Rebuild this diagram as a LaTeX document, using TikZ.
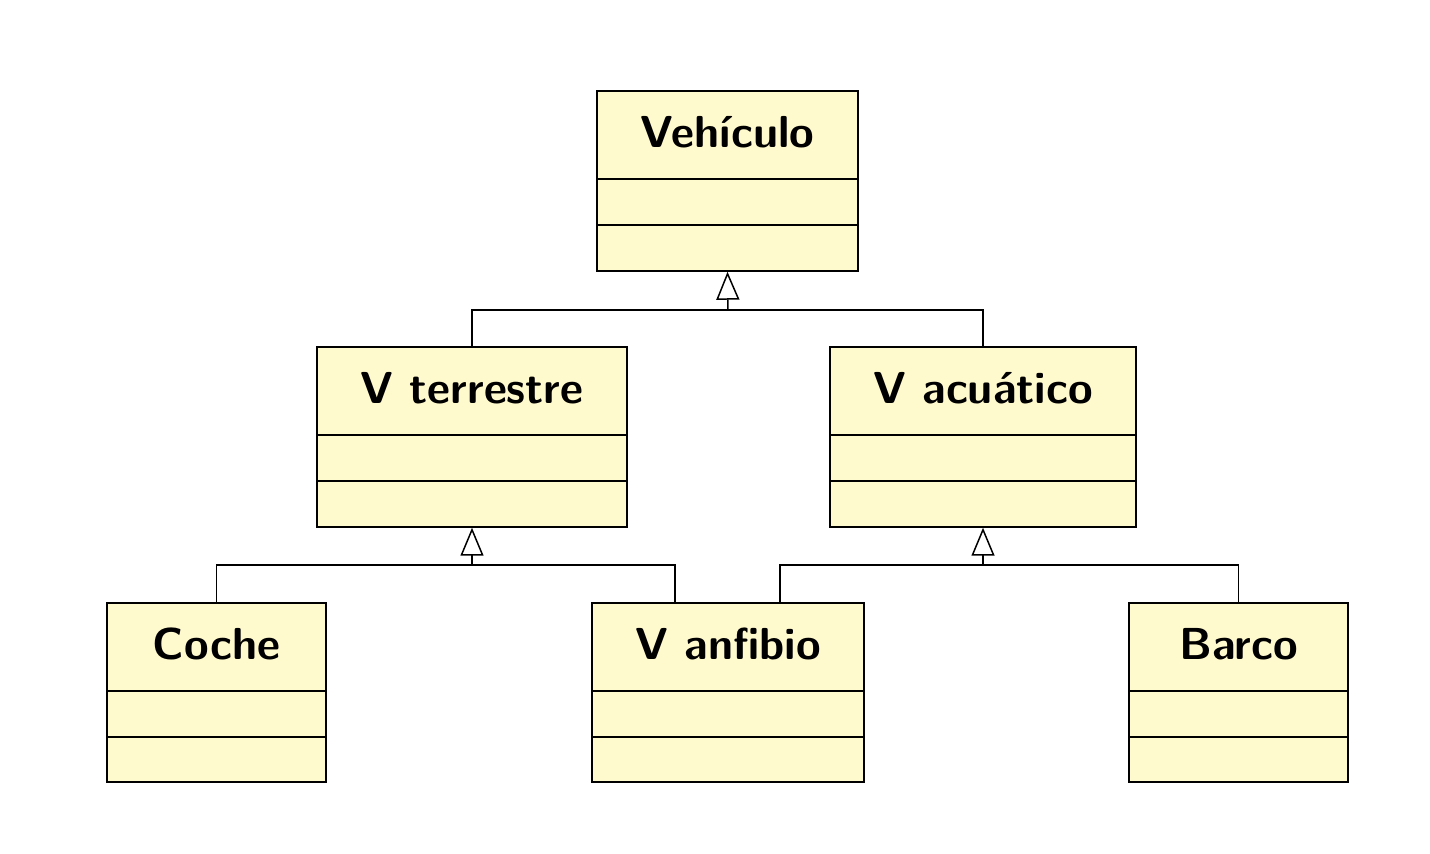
\documentclass[tikz,border=0pt]{standalone}
\usetikzlibrary{arrows.meta,calc}
\definecolor{clsfill}{RGB}{255,250,205}
\begin{document}
\begin{tikzpicture}[x=0.02cm,y=-0.02cm,
  cls/.style={draw=black, fill=clsfill, line width=0.85pt, rectangle, inner sep=0pt},
  divider/.style={draw=black, line width=0.95pt},
  title/.style={font=\fontsize{25.5}{30}\selectfont\sffamily\bfseries, inner sep=0pt},
  conn/.style={draw=black, line width=0.85pt},
  inh/.style={conn, -{Triangle[open, fill=white, width=0.46cm, length=0.56cm]}}
]
\useasboundingbox (0,0) rectangle (1430,854);
% class boxes: name, left, top, right, bottom
\newcommand{\umlclass}[6]{%
  \node[cls, minimum width={(#4-#2)*0.02cm}, minimum height={(#5-#3)*0.02cm}] (#1) at ({(#2+#4)/2},{(#3+#5)/2}) {};
  \draw[divider] ($(#1.north west)+(0,89)$) -- ($(#1.north east)+(0,89)$);
  \draw[divider] ($(#1.north west)+(0,135)$) -- ($(#1.north east)+(0,135)$);
  \node[title] (#1t) at ($(#1.north)+(0,42)$) {#6};
}
\umlclass{veh}{597}{91}{858}{271}{Vehículo}
\umlclass{vter}{317}{347}{627}{527}{V terrestre}
\umlclass{vacu}{830}{347}{1136}{527}{V acuático}
\umlclass{coche}{107}{603}{326}{782}{Coche}
\umlclass{anf}{592}{603}{864}{782}{V anfibio}
\umlclass{barco}{1129}{603}{1348}{782}{Barco}

\coordinate (j1) at (728,310);
\coordinate (j2) at (472,565);
\coordinate (j3) at (983,565);
\coordinate (anfL) at (675,603);
\coordinate (anfR) at (780,603);

\draw[conn] (vter.north) |- (j1);
\draw[conn] (vacu.north) |- (j1);
\draw[inh] (j1) -- (veh.south);

\draw[conn] (coche.north) |- (j2);
\draw[conn] (anfL) |- (j2);
\draw[inh] (j2) -- (vter.south);

\draw[conn] (anfR) |- (j3);
\draw[conn] (barco.north) |- (j3);
\draw[inh] (j3) -- (vacu.south);
\end{tikzpicture}
\end{document}
